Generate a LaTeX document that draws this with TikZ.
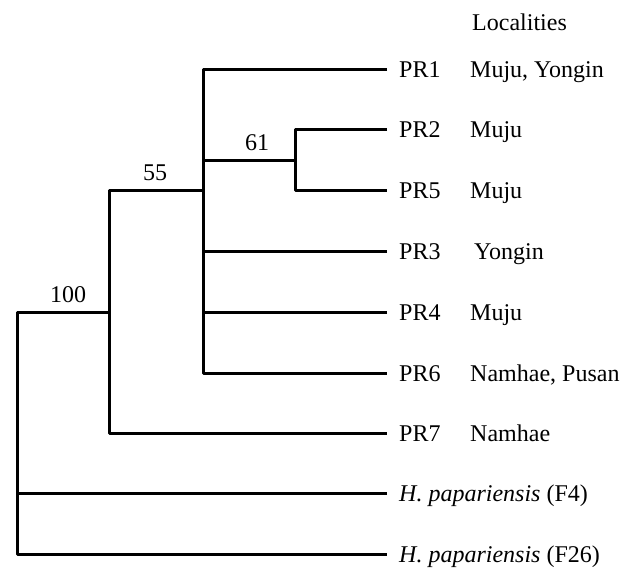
\documentclass[tikz,border=0pt]{standalone}
\usepackage{fontspec}
\setmainfont{Liberation Serif}
\begin{document}
\begin{tikzpicture}[x=1pt,y=-1pt,
  br/.style={line width=3pt,line join=round},
  lab/.style={anchor=base west,inner sep=0pt,font=\fontsize{24}{28}\selectfont},
  boot/.style={anchor=base,inner sep=0pt,font=\fontsize{24}{28}\selectfont}]
\useasboundingbox (0,0) rectangle (640,570);
% internal nodes
\coordinate (r) at (17,312);
\coordinate (a) at (109,312);
\coordinate (b) at (203,190);
\coordinate (c) at (295,160);
% leaf tips
\coordinate (t1) at (387,69);
\coordinate (t2) at (387,129);
\coordinate (t5) at (387,190);
\coordinate (t3) at (387,251);
\coordinate (t4) at (387,312);
\coordinate (t6) at (387,373);
\coordinate (t7) at (387,433);
\coordinate (t8) at (387,493);
\coordinate (t9) at (387,554);
% branches
\draw[br] (t1) -| (b) |- (t6);
\draw[br] (t3) -- (t3 -| b);
\draw[br] (t4) -- (t4 -| b);
\draw[br] (t2) -| (c) |- (t5);
\draw[br] (c) -- (c -| b);
\draw[br] (b) -| (a) |- (t7);
\draw[br] (a) -- (r) |- (t9);
\draw[br] (t8) -- (t8 -| r);
% bootstrap values
\node[boot] (bs100) at (68,302) {100};
\node[boot] (bs55) at (155,180) {55};
\node[boot] (bs61) at (257,150) {61};
% header
\node[lab] (hdr) at (472,30) {Localities};
% leaf labels
\node[lab] (PR1) at (399,77) {PR1};
\node[lab] (PR2) at (399,137) {PR2};
\node[lab] (PR5) at (399,198) {PR5};
\node[lab] (PR3) at (399,259) {PR3};
\node[lab] (PR4) at (399,320) {PR4};
\node[lab] (PR6) at (399,381) {PR6};
\node[lab] (PR7) at (399,441) {PR7};
\node[lab] (F4) at (399,501) {\textit{H. papariensis} (F4)};
\node[lab] (F26) at (399,562) {\textit{H. papariensis} (F26)};
% localities
\node[lab] (L1) at (470,77) {Muju, Yongin};
\node[lab] (L2) at (470,137) {Muju};
\node[lab] (L5) at (470,198) {Muju};
\node[lab] (L3) at (474,259) {Yongin};
\node[lab] (L4) at (470,320) {Muju};
\node[lab] (L6) at (470,381) {Namhae, Pusan};
\node[lab] (L7) at (470,441) {Namhae};
\end{tikzpicture}
\end{document}
